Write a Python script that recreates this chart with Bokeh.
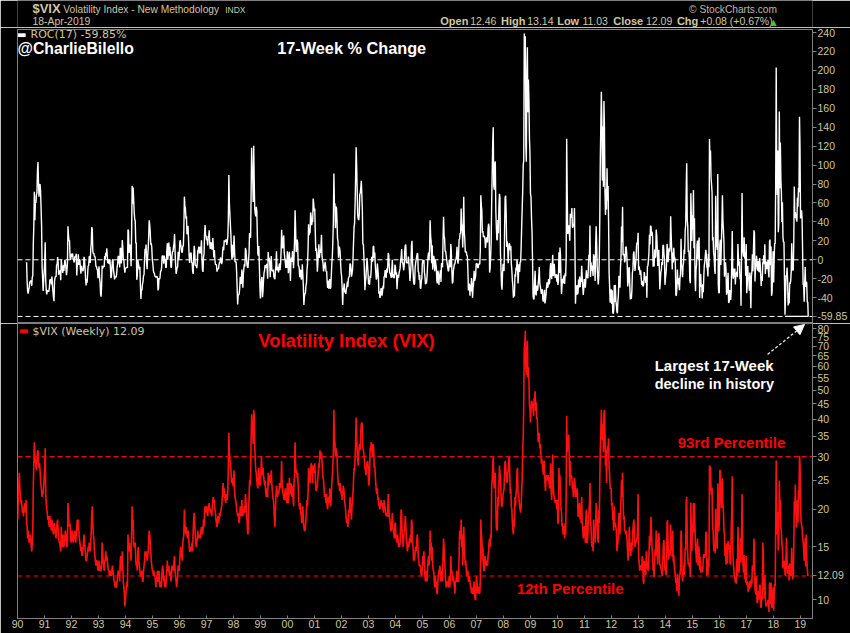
import numpy as np
import pandas as pd
from bokeh.plotting import figure
from bokeh.layouts import column
from bokeh.models import (Range1d, FixedTicker, DatetimeTickFormatter, PrintfTickFormatter,
                          Span, Label, Arrow, NormalHead)
from bokeh.embed import file_html
from bokeh.resources import INLINE

# ---------------- data: weekly VIX closes ----------------
vix_1990 = [18.5, 22.5, 24.0, 26.5, 23.5, 22.0, 21.0, 21.5, 20.5, 19.5, 20.0, 19.0, 20.5,
            20.5, 21.0, 19.5, 21.5, 18.0, 17.5, 16.0, 17.0, 16.0, 15.5, 16.0, 16.5, 16.0,
            15.0, 14.5, 15.5, 17.0, 24.0, 28.5, 33.5, 30.5, 29.0, 28.0, 27.0, 29.0, 31.0,
            31.5, 29.0, 27.5, 28.5, 27.0, 25.0, 24.0, 23.0, 22.0, 23.0, 22.5, 24.0, 25.5]
vix_1991 = [27.5, 32.0, 22.5, 21.0, 20.0, 19.5, 18.5, 19.0, 18.0, 17.5, 19.0, 18.0, 17.5,
            17.0, 18.5, 17.5, 17.0, 16.5, 18.0, 17.5, 17.0, 16.5, 16.0, 17.5, 18.0, 18.5,
            17.0, 16.0, 15.5, 15.5, 15.0, 14.5, 17.5, 16.0, 15.0, 15.5, 16.5, 15.0, 15.5,
            16.0, 17.0, 16.5, 15.5, 15.0, 15.5, 21.0, 19.5, 18.0, 17.5, 18.0, 16.0, 15.5]
vix_1992 = [16.5, 17.0, 16.0, 15.5, 16.0, 16.5, 17.0, 16.0, 15.5, 16.5, 17.5, 18.5, 17.0,
            18.5, 17.0, 16.0, 15.5, 15.0, 14.5, 15.0, 14.0, 14.5, 14.5, 15.5, 16.5, 15.5,
            15.0, 14.0, 13.5, 13.5, 14.0, 14.5, 15.0, 14.5, 15.5, 15.0, 14.5, 15.5, 17.0,
            19.5, 20.5, 18.0, 16.5, 16.0, 14.5, 14.0, 13.5, 13.0, 13.5, 13.5, 13.0, 12.5]
vix_1993 = [13.0, 13.5, 12.5, 13.0, 12.5, 12.5, 13.0, 15.5, 14.5, 13.5, 13.0, 12.5, 13.5,
            13.5, 14.5, 13.5, 14.0, 13.5, 13.0, 12.5, 12.5, 12.0, 12.5, 12.0, 12.5, 12.0,
            12.5, 13.0, 12.5, 12.0, 11.5, 11.5, 11.0, 11.5, 11.0, 11.0, 11.5, 12.0, 12.5,
            12.0, 12.5, 11.5, 13.5, 14.0, 12.5, 13.0, 14.5, 13.0, 11.5, 11.0, 10.5, 9.5, 10.0]
vix_1994 = [10.5, 11.0, 11.5, 11.0, 16.5, 15.0, 14.5, 15.5, 14.5, 14.5, 13.5, 16.5,
            20.5, 17.5, 18.5, 15.5, 15.0, 15.0, 15.5, 13.5, 13.0, 13.0, 12.5, 14.5, 15.0,
            13.5, 13.0, 12.5, 12.0, 12.0, 12.0, 12.5, 11.5, 11.5, 12.5, 13.0, 13.5, 14.5, 14.0,
            14.5, 14.0, 13.5, 14.0, 14.5, 15.5, 17.0, 16.5, 15.5, 14.5, 13.5, 13.0, 12.5]
vix_1995 = [12.5, 12.0, 12.5, 12.0, 12.0, 11.5, 11.0, 11.5, 12.0, 12.5, 11.5, 11.5, 12.5,
            11.5, 11.0, 11.5, 11.0, 11.5, 12.5, 13.0, 12.5, 11.5, 12.0, 11.0, 11.5, 11.0,
            11.5, 12.5, 13.5, 12.5, 12.5, 13.0, 12.0, 12.5, 12.0, 11.5, 12.0, 13.0, 12.5,
            13.0, 12.5, 13.5, 14.0, 12.5, 12.0, 11.5, 11.0, 11.5, 12.0, 13.0, 12.5, 12.5]
vix_1996 = [13.5, 14.5, 15.0, 14.0, 14.0, 13.5, 15.5, 16.0, 16.5, 20.0, 18.0, 17.0, 16.5,
            17.5, 16.5, 16.0, 17.0, 16.5, 15.5, 14.5, 14.5, 15.0, 14.5, 15.0, 15.5, 14.5,
            17.0, 18.5, 19.5, 18.0, 16.5, 15.5, 15.0, 15.5, 16.0, 17.0, 16.0, 16.5, 16.0,
            16.5, 16.0, 17.0, 17.5, 17.0, 16.5, 17.0, 18.5, 17.5, 19.5, 20.5, 19.5, 20.0]
vix_1997 = [20.5, 19.5, 19.0, 20.0, 20.5, 21.0, 20.0, 19.5, 20.0, 19.5, 19.0, 20.5, 21.5,
            22.0, 21.0, 21.5, 20.0, 19.5, 18.5, 18.0, 17.5, 18.5, 19.0, 18.0, 18.5, 19.5,
            19.0, 19.5, 20.0, 20.5, 21.5, 23.0, 24.5, 22.0, 23.5, 22.0, 21.5, 21.0, 22.5,
            22.0, 21.5, 23.0, 28.0, 36.0, 31.0, 29.5, 28.0, 27.0, 25.0, 24.5, 25.5, 24.0]
vix_1998 = [24.0, 27.0, 23.0, 22.0, 21.5, 21.0, 20.0, 19.5, 19.0, 19.5, 18.5, 18.0, 19.0,
            20.5, 19.5, 19.0, 21.5, 20.0, 19.0, 19.5, 20.0, 20.5, 19.5, 22.5, 21.5, 19.5,
            18.5, 17.0, 16.5, 19.0, 22.0, 25.0, 24.0, 26.5, 34.0, 41.5, 37.0, 38.0, 33.0,
            43.0, 41.0, 33.0, 29.0, 27.0, 26.5, 25.0, 24.0, 23.5, 26.0, 27.5, 24.5, 24.0]
vix_1999 = [24.5, 27.0, 30.0, 27.0, 26.0, 27.5, 26.0, 25.0, 24.0, 25.0, 23.0, 22.0, 22.5,
            23.5, 22.0, 26.5, 24.0, 25.0, 26.0, 24.5, 25.5, 27.0, 24.5, 23.0, 22.0, 21.5,
            20.5, 18.5, 17.5, 20.0, 22.0, 24.0, 23.5, 22.0, 23.0, 22.5, 23.0, 24.5, 24.0,
            23.5, 25.0, 29.0, 24.5, 23.0, 22.5, 22.0, 21.5, 22.5, 23.5, 21.5, 22.0, 21.0, 24.5]
vix_2000 = [24.0, 21.0, 22.5, 25.5, 23.0, 22.5, 24.5, 23.5, 22.0, 24.0, 22.0, 20.5, 24.5,
            26.0, 33.5, 28.0, 26.5, 27.0, 25.5, 26.5, 24.0, 21.5, 20.5, 20.0, 21.0, 19.5,
            19.0, 18.0, 19.5, 20.5, 18.5, 17.5, 17.0, 17.0, 17.5, 18.5, 20.0, 21.5, 20.5,
            22.5, 27.5, 26.5, 25.0, 24.5, 27.0, 28.5, 28.0, 26.0, 24.5, 28.0, 27.0, 26.5]
vix_2001 = [28.5, 26.0, 23.5, 23.0, 23.5, 24.0, 25.5, 27.0, 28.5, 27.5, 31.5, 30.0, 29.5,
            31.0, 29.0, 27.0, 25.5, 25.0, 23.5, 22.0, 22.5, 22.0, 21.0, 22.5, 20.5, 20.0,
            21.5, 22.0, 21.0, 23.5, 21.5, 20.5, 22.5, 24.5, 26.0, 28.0, 31.0, 43.0, 35.0,
            33.5, 30.0, 32.0, 31.0, 30.5, 27.0, 25.0, 24.0, 24.5, 23.0, 24.5, 23.5, 22.5]
vix_2002 = [23.0, 21.5, 22.5, 24.0, 23.5, 22.5, 21.0, 20.5, 19.5, 18.5, 18.0, 18.5, 17.5,
            18.5, 20.0, 19.5, 21.5, 22.0, 19.5, 18.5, 20.5, 21.0, 23.0, 25.0, 27.5, 27.0,
            29.5, 33.5, 40.5, 35.0, 32.0, 29.5, 28.0, 30.5, 32.5, 33.0, 31.5, 36.0, 38.5,
            39.0, 38.0, 32.0, 31.5, 30.5, 29.0, 27.5, 27.0, 26.0, 27.5, 28.5, 29.0, 28.0]
vix_2003 = [24.5, 24.0, 26.5, 32.0, 31.5, 33.5, 33.0, 31.0, 30.0, 33.0, 31.5, 27.5, 28.0,
            26.0, 24.5, 23.0, 22.5, 23.5, 21.5, 22.0, 20.5, 21.0, 20.0, 20.5, 21.5, 21.0,
            20.5, 21.0, 20.0, 19.5, 21.5, 20.0, 20.5, 19.5, 19.0, 19.5, 19.0, 19.0, 22.5,
            21.0, 19.0, 18.5, 18.0, 17.0, 17.0, 18.0, 19.5, 17.5, 17.0, 16.5, 16.0, 18.0]
vix_2004 = [18.0, 16.0, 16.5, 15.5, 16.5, 16.0, 15.0, 15.5, 15.0, 15.5, 18.0, 20.0, 19.5,
            16.5, 16.0, 15.0, 16.0, 17.0, 17.5, 19.0, 18.0, 16.0, 15.5, 14.5, 15.0, 15.5,
            15.0, 16.0, 15.5, 16.5, 15.5, 18.5, 18.0, 15.5, 15.0, 13.5, 14.0, 13.5, 14.5,
            15.0, 14.5, 15.5, 16.5, 16.0, 14.0, 13.5, 13.0, 13.0, 13.0, 12.5, 12.0, 12.0, 13.0]
vix_2005 = [14.0, 13.0, 14.5, 13.0, 12.0, 11.5, 12.5, 12.0, 11.5, 12.5, 13.5, 14.0,
            13.0, 14.0, 17.0, 15.0, 15.5, 13.5, 15.0, 13.0, 12.5, 12.5, 11.5, 11.0, 12.0,
            11.0, 11.5, 10.5, 10.5, 11.5, 12.0, 12.5, 12.5, 13.0, 12.0, 11.5, 12.5, 12.0, 11.5,
            14.0, 16.0, 15.0, 13.5, 12.5, 11.5, 11.0, 11.5, 11.5, 11.5, 11.0, 11.5, 12.0]
vix_2006 = [11.0, 11.5, 14.0, 12.5, 12.5, 12.0, 11.5, 12.0, 11.5, 11.0, 10.5, 11.5, 11.5,
            12.0, 12.5, 11.5, 11.5, 11.5, 14.0, 17.0, 16.0, 16.0, 18.5, 15.0, 16.5, 13.0,
            14.5, 17.5, 15.0, 14.0, 13.0, 13.5, 12.5, 12.0, 12.0, 12.5, 11.5, 11.5, 12.0,
            11.5, 11.0, 11.0, 10.5, 11.0, 10.5, 10.5, 10.5, 11.5, 10.5, 10.0, 10.0, 11.5]
vix_2007 = [12.0, 11.0, 10.5, 11.0, 11.0, 10.5, 10.5, 11.5, 18.5, 16.5, 16.0, 13.5, 15.0,
            13.0, 12.5, 12.5, 14.0, 13.5, 13.0, 13.0, 13.5, 13.0, 14.0, 14.5, 15.5, 16.0,
            15.0, 16.5, 16.0, 24.0, 25.0, 28.0, 30.0, 25.0, 23.5, 26.0, 26.5, 20.5, 17.5,
            17.0, 17.5, 22.0, 20.5, 23.5, 28.0, 26.5, 25.5, 22.5, 20.5, 20.5, 21.5, 22.5]
vix_2008 = [23.0, 23.5, 27.5, 29.0, 28.5, 26.0, 25.0, 24.5, 26.5, 27.0, 29.5, 30.0, 26.0,
            22.5, 23.5, 20.5, 20.0, 18.0, 17.0, 16.5, 18.5, 17.5, 22.0, 20.5, 22.5, 23.5,
            27.0, 27.5, 22.5, 22.5, 21.5, 20.5, 20.0, 19.5, 20.5, 23.0, 25.5, 32.0, 35.0,
            45.0, 69.5, 70.5, 79.0, 59.5, 56.0, 66.0, 73.0, 55.0, 59.5, 54.0, 44.5, 43.5]
vix_2009 = [39.0, 42.5, 46.0, 45.5, 44.5, 43.0, 41.0, 47.0, 46.5, 49.5, 42.5, 45.5, 40.0,
            40.5, 36.5, 33.5, 35.5, 36.0, 32.0, 33.0, 31.0, 28.5, 29.5, 28.0, 27.0, 26.0,
            29.0, 29.0, 24.5, 23.0, 25.5, 26.0, 25.5, 25.0, 26.0, 25.5, 24.5, 23.5, 25.5,
            28.5, 23.0, 21.5, 24.5, 30.5, 24.0, 22.5, 22.0, 21.5, 21.0, 21.5, 21.0, 20.0]
vix_2010 = [21.5, 18.0, 18.0, 27.5, 24.5, 26.0, 22.5, 20.0, 19.5, 17.5, 18.0, 16.5, 17.5,
            17.5, 16.0, 18.0, 16.5, 22.0, 41.0, 31.0, 35.0, 32.0, 35.5, 29.0, 24.0, 29.0,
            25.5, 26.0, 25.5, 23.5, 23.5, 22.0, 24.5, 25.5, 24.5, 22.0, 22.5, 22.0, 23.5,
            22.5, 19.0, 19.0, 20.5, 21.0, 18.5, 20.5, 18.0, 22.0, 18.0, 17.5, 16.0, 17.0, 17.5]
vix_2011 = [17.5, 15.5, 18.5, 20.0, 15.5, 15.5, 16.5, 19.5, 19.5, 21.0, 24.5, 18.0,
            17.5, 15.5, 15.0, 15.5, 14.5, 18.5, 16.0, 17.5, 15.5, 18.0, 21.0, 19.0, 18.0,
            16.0, 15.5, 20.0, 18.0, 25.0, 32.0, 36.5, 43.0, 35.5, 34.0, 38.5, 31.0, 41.5, 43.0,
            36.0, 28.0, 31.5, 24.5, 30.5, 32.5, 32.0, 34.5, 27.5, 26.0, 23.5, 23.5, 23.4]
vix_2012 = [20.5, 21.0, 18.5, 18.5, 17.0, 20.5, 17.5, 18.0, 17.5, 17.0, 14.5, 15.0, 15.5,
            16.5, 19.5, 17.5, 16.5, 19.0, 21.5, 25.0, 22.0, 26.5, 21.5, 18.5, 19.0, 17.0,
            17.0, 16.5, 17.0, 16.5, 15.5, 14.0, 13.5, 15.0, 17.5, 15.5, 14.5, 14.0, 15.5,
            14.5, 16.0, 17.0, 18.0, 18.5, 16.0, 15.0, 15.5, 15.5, 16.0, 16.0, 17.5, 22.5]
vix_2013 = [13.8, 13.5, 12.5, 13.0, 12.9, 13.0, 12.5, 14.0, 13.5, 11.5, 11.3, 13.5, 12.7,
            12.8, 12.1, 14.5, 13.5, 12.9, 12.6, 12.5, 14.0, 16.3, 15.1, 17.0, 18.9, 16.9,
            14.9, 14.0, 12.5, 12.7, 11.9, 13.4, 14.8, 14.0, 17.0, 15.9, 14.2, 13.1, 15.5,
            16.7, 15.7, 13.0, 13.1, 12.9, 12.5, 12.2, 12.0, 13.7, 15.5, 15.8, 13.8, 12.5]
vix_2014 = [12.9, 12.1, 12.4, 18.1, 18.4, 15.3, 13.6, 14.7, 14.0, 14.1, 17.8, 15.0, 15.0,
            13.9, 17.0, 13.4, 14.1, 12.9, 12.4, 12.0, 11.4, 11.4, 10.7, 12.2, 10.9, 11.3,
            10.3, 12.1, 12.1, 12.7, 17.0, 15.8, 12.4, 11.5, 12.1, 12.1, 13.3, 12.1, 14.9,
            14.6, 21.2, 22.0, 16.1, 14.0, 13.1, 13.3, 12.9, 13.3, 11.9, 21.1, 16.5, 14.5]
vix_2015 = [17.8, 17.6, 21.0, 16.7, 21.0, 17.3, 14.7, 14.3, 13.3, 15.2, 16.0, 13.0, 15.1,
            14.7, 12.6, 13.9, 12.3, 12.7, 12.9, 12.4, 12.4, 13.8, 14.2, 13.8, 14.0, 14.0,
            16.8, 16.8, 12.0, 13.7, 12.1, 13.4, 12.8, 28.0, 26.1, 27.8, 23.2, 22.3, 23.6,
            17.1, 17.1, 15.1, 14.5, 15.1, 14.3, 20.1, 15.5, 15.1, 14.8, 24.4, 20.7, 16.9]
vix_2016 = [18.2, 27.0, 27.0, 22.3, 20.2, 23.4, 25.4, 20.5, 19.8, 16.9, 16.5, 14.0, 14.7,
            13.1, 15.4, 13.6, 13.2, 15.7, 14.7, 15.0, 15.2, 13.1, 13.5, 17.0, 19.4, 25.8,
            14.8, 13.2, 12.7, 12.0, 11.9, 11.4, 11.6, 11.3, 13.7, 12.0, 17.5, 15.4, 12.3, 13.3,
            13.5, 16.1, 13.3, 16.2, 22.5, 14.2, 12.9, 12.3, 14.1, 11.75, 12.2, 11.4, 14.0]
vix_2017 = [11.3, 11.2, 11.5, 10.6, 11.0, 10.85, 11.5, 11.5, 11.0, 11.7, 11.3, 13.0, 12.4,
            12.9, 16.0, 14.6, 10.8, 10.6, 10.4, 12.0, 9.8, 9.75, 10.7, 10.4, 10.0, 11.2,
            11.2, 9.5, 9.4, 10.3, 10.0, 15.5, 14.3, 11.3, 10.1, 12.1, 10.2, 9.6, 9.5,
            9.65, 9.6, 10.0, 9.8, 9.1, 11.3, 11.4, 9.7, 11.4, 9.6, 9.4, 9.9, 11.0]
vix_2018 = [9.2, 10.2, 11.3, 11.1, 17.3, 29.1, 19.5, 16.5, 19.6, 14.6, 15.8, 24.9, 20.0,
            21.5, 17.4, 16.9, 15.4, 14.8, 12.7, 13.4, 13.2, 13.5, 12.2, 12.0, 13.8, 16.1,
            13.4, 12.2, 12.9, 13.0, 11.6, 13.2, 12.6, 12.0, 12.9, 14.9, 12.1, 11.7, 12.1,
            14.8, 21.3, 19.9, 24.2, 19.5, 17.4, 18.1, 21.5, 18.1, 23.2, 21.6, 30.11, 28.3]
vix_2019 = [21.4, 18.2, 17.8, 17.4, 16.1, 15.7, 14.9, 13.5, 14.6, 16.05, 12.9, 16.5, 13.7,
            12.8, 12.0, 12.09]

roc_period = 17
pct_93 = 30.0
pct_12 = 12.0
year_ticks = list(range(1990, 2020))
roc_ticks = list(range(-40, 241, 20))
vix_ticks = list(range(10, 81, 5))
hdr_keys = ["Open", "High", "Low", "Close", "Chg"]
hdr_vals = ["12.46", "13.14", "11.03", "12.09", "+0.08 (+0.67%)"]

vix = (vix_1990 + vix_1991 + vix_1992 + vix_1993 + vix_1994 + vix_1995 + vix_1996 +
       vix_1997 + vix_1998 + vix_1999 + vix_2000 + vix_2001 + vix_2002 + vix_2003 +
       vix_2004 + vix_2005 + vix_2006 + vix_2007 + vix_2008 + vix_2009 + vix_2010 +
       vix_2011 + vix_2012 + vix_2013 + vix_2014 + vix_2015 + vix_2016 + vix_2017 +
       vix_2018 + vix_2019)

dates = pd.date_range(end="2019-04-19", periods=len(vix), freq="W-FRI")
dates = dates[:-1].append(pd.DatetimeIndex([pd.Timestamp("2019-04-18")]))
v = np.array(vix, dtype=float)
roc = np.full(len(v), np.nan)
roc[roc_period:] = (v[roc_period:] / v[:-roc_period] - 1.0) * 100.0
last_roc = round(float(roc[-1]), 2)
last_vix = round(float(v[-1]), 2)

# ---------------- styling / geometry ----------------
TAN = "#cdc8a0"
GRAY = "#808080"
RED = "#ff0000"
FONT = "Liberation Sans"
W = 850
HDR_H = 27
TOP_H = 2 + 294
T_START = pd.Timestamp("1990-01-01")
T_END = pd.Timestamp("2019-06-15")
TOP_HI, TOP_LO = 243.2, -67.3     # ROC values at the top panel's upper / lower edge
BOT_HI, BOT_LO = 83.3, 8.66       # VIX values at the lower panel's upper / lower edge

xr = Range1d(start=T_START, end=T_END)


def xd(px):
    """page pixel x -> datetime (ms) for annotation placement"""
    t0, t1 = T_START.value / 1e6, T_END.value / 1e6
    return t0 + (px - 17.0) / 796.0 * (t1 - t0)


def yt(py):
    return TOP_HI - (py - 29.0) / 294.0 * (TOP_HI - TOP_LO)


def yb(py):
    return BOT_HI * (BOT_LO / BOT_HI) ** ((py - 323.0) / 295.0)


def ident(py):
    return py


def lab(fig, x, ymap, base_py, text, size, color, bold=False, font=FONT, align="left"):
    # text is anchored at its middle; shift from the wanted baseline to the box middle
    mid = base_py - 0.347 * size
    fig.add_layout(Label(x=x, y=ymap(mid), text=text, text_font=font,
                         text_font_size=f"{size}px", text_color=color,
                         text_font_style="bold" if bold else "normal",
                         text_align=align, text_baseline="middle"))


def style_yaxis(ax, ticks, tag_value):
    ax.ticker = FixedTicker(ticks=ticks + [tag_value])
    ax.formatter = PrintfTickFormatter(format="%d")
    ax.major_label_overrides = {tag_value: f"{tag_value:.2f}"}
    ax.axis_line_color = GRAY
    ax.major_tick_line_color = GRAY
    ax.major_tick_out = 4
    ax.major_tick_in = 0
    ax.minor_tick_line_color = None
    ax.major_label_text_color = TAN
    ax.major_label_text_font = FONT
    ax.major_label_text_font_size = "10.5px"
    ax.major_label_standoff = 1


common = dict(title=None, toolbar_location=None, output_backend="svg",
              background_fill_color="black", border_fill_color="black")

# ---------------- header strip ----------------
hdr = figure(width=W, height=HDR_H, x_range=Range1d(0, W), y_range=Range1d(HDR_H, 0),
             x_axis_location=None, y_axis_location=None, outline_line_color=None,
             min_border=0, **common)
hdr.grid.visible = False
lab(hdr, 16, ident, 12.8, "$VIX", 13, TAN, bold=True)
lab(hdr, 49, ident, 12.5, "Volatility Index - New Methodology", 10.2, TAN)
lab(hdr, 222, ident, 12.3, "INDX", 8.5, TAN)
lab(hdr, 16, ident, 24.3, "18-Apr-2019", 10.4, TAN)
lab(hdr, 812, ident, 12.5, "\u00a9 StockCharts.com", 10.2, "#bdb9a6", align="right")
for k, kx in zip(hdr_keys, [452, 517, 577, 637, 705]):
    lab(hdr, kx, ident, 24.3, k, 11, TAN, bold=True)
for s, sx in zip(hdr_vals, [484, 545, 604, 672, 730]):
    lab(hdr, sx, ident, 24.3, s, 10.5, TAN)
lab(hdr, 805, ident, 24.3, "\u25b2", 8, "#33cc33", font="DejaVu Sans")

# ---------------- top panel: ROC(17) ----------------
top = figure(width=W, height=TOP_H, x_range=xr, y_range=Range1d(TOP_LO, TOP_HI),
             x_axis_type="datetime", x_axis_location=None, y_axis_location="right",
             outline_line_color=GRAY, min_border_left=17, min_border_right=37,
             min_border_top=TOP_H - 294, min_border_bottom=0, **common)
top.grid.visible = False
style_yaxis(top.yaxis[0], roc_ticks, last_roc)

top.add_layout(Span(location=0, dimension="width", line_color="white", line_width=1,
                    line_dash="5 3"))
top.add_layout(Span(location=last_roc, dimension="width", line_color="white", line_width=1,
                    line_dash="5 3"))
top.line(dates, roc, line_color="white", line_width=1.4)
i_low = len(roc) - 60 + int(np.nanargmin(roc[-60:-1]))
top.line([dates[i_low], dates[-1]], [last_roc, last_roc], line_color="white", line_width=1.2)

lab(top, xd(16.5), yt, 37.5, "\u25ac", 10, "white", font="DejaVu Sans")
lab(top, xd(30), yt, 38.3, f"ROC({roc_period}) {last_roc:.2f}%", 11, TAN, font="DejaVu Sans")
lab(top, xd(17), yt, 53.3, "@CharlieBilello", 15.8, "white", bold=True)
lab(top, xd(277), yt, 53.3, "17-Week % Change", 16.3, "white", bold=True)

# ---------------- bottom panel: VIX weekly ----------------
bot = figure(width=W, height=633 - HDR_H - TOP_H, x_range=xr, y_range=Range1d(BOT_LO, BOT_HI),
             x_axis_type="datetime", y_axis_type="log", y_axis_location="right",
             outline_line_color=GRAY, min_border_left=17, min_border_right=37,
             min_border_top=0, min_border_bottom=15, **common)
bot.grid.visible = False
style_yaxis(bot.yaxis[0], vix_ticks, last_vix)

xa = bot.xaxis[0]
xa.ticker = FixedTicker(ticks=[pd.Timestamp(f"{yy}-01-01").value / 1e6 for yy in year_ticks])
xa.formatter = DatetimeTickFormatter(years="%y", months="%y", days="%y")
xa.axis_line_color = GRAY
xa.major_tick_line_color = GRAY
xa.major_tick_in = 3
xa.major_tick_out = 0
xa.minor_tick_line_color = None
xa.major_label_text_color = TAN
xa.major_label_text_font = FONT
xa.major_label_text_font_size = "10.5px"
xa.major_label_standoff = 1

for lvl in (pct_93, pct_12):
    bot.add_layout(Span(location=lvl, dimension="width", line_color=RED, line_width=1.2,
                        line_dash="5 3"))
bot.line(dates, v, line_color="#ff1010", line_width=1.6)

lab(bot, xd(18.5), yb, 333.5, "\u25ac", 10, RED, font="DejaVu Sans")
lab(bot, xd(32), yb, 334.5, f"$VIX (Weekly) {last_vix:.2f}", 11, TAN, font="DejaVu Sans")
lab(bot, xd(258), yb, 346.7, "Volatility Index (VIX)", 18.5, RED, bold=True)
lab(bot, xd(655), yb, 370.7, "Largest 17-Week", 15, "white", bold=True)
lab(bot, xd(655), yb, 388.5, "decline in history", 14.5, "white", bold=True)
lab(bot, xd(678), yb, 447.5, "93rd Percentile", 15, RED, bold=True)
lab(bot, xd(517), yb, 593.5, "12th Percentile", 15, RED, bold=True)

bot.add_layout(Arrow(end=NormalHead(size=10, fill_color="white", line_color="white"),
                     x_start=xd(768), y_start=yb(354), x_end=xd(805), y_end=yb(324),
                     line_color="#e6e6e6", line_width=1.3, line_dash="3 2"))

layout = column(hdr, top, bot)
open("out.html", "w").write(file_html(layout, INLINE))
